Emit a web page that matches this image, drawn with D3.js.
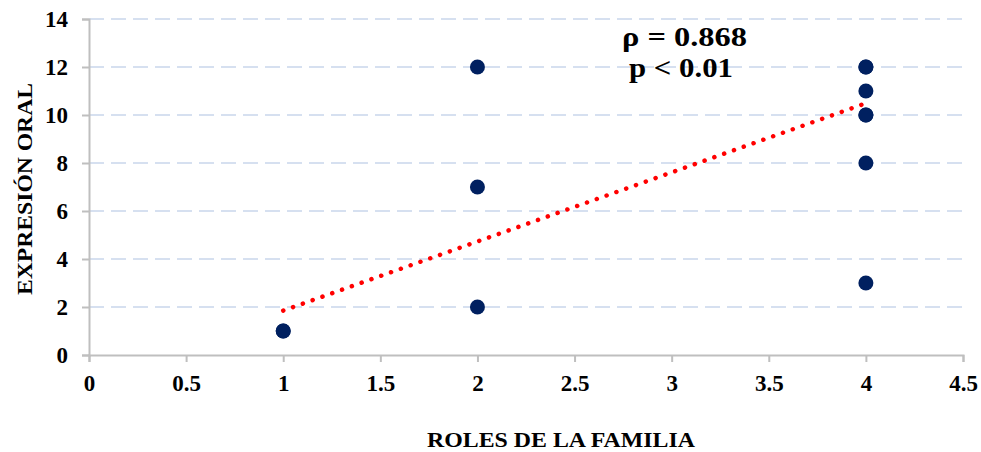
<!DOCTYPE html>
<html>
<head>
<meta charset="utf-8">
<script src="https://cdn.jsdelivr.net/npm/d3@7"></script>
<style>
html,body{margin:0;padding:0;background:#fff;}
svg{display:block;}
text{font-family:"Liberation Serif","Times New Roman",serif;font-weight:bold;fill:#000;}
</style>
</head>
<body>
<svg id="chart" width="981" height="452"></svg>
<script>
// Data
const xValues = [1, 1, 2, 2, 2, 4, 4, 4, 4, 4, 4, 4];
const yValues = [1, 1, 12, 7, 2, 12, 12, 11, 10, 10, 8, 3];
const xTicks = [0, 0.5, 1, 1.5, 2, 2.5, 3, 3.5, 4, 4.5];
const yTicks = [0, 2, 4, 6, 8, 10, 12, 14];
const trendSlope = 2.88;
const trendIntercept = -1.03;
const statLines = ["\u03C1 = 0.868", "p < 0.01"];
const xTitle = "ROLES DE LA FAMILIA";
const yTitle = "EXPRESIÓN ORAL";

const svg = d3.select("#chart");
const m = {left: 89, right: 963, top: 19, bottom: 355};
const x = d3.scaleLinear().domain([0, 4.5]).range([m.left, m.right]);
const y = d3.scaleLinear().domain([0, 14]).range([m.bottom, m.top]);
const axisColor = "#bfbfbf";
const fontFam = '"Liberation Serif","Times New Roman",serif';

// gridlines
svg.append("g").selectAll("line").data(yTicks.filter(d => d > 0)).join("line")
  .attr("x1", m.left).attr("x2", m.right)
  .attr("y1", d => y(d)).attr("y2", d => y(d))
  .attr("stroke", "#d6e0f0").attr("stroke-width", 2)
  .attr("stroke-dasharray", "15 7");

// axes
const xAxis = svg.append("g").attr("transform", `translate(0,${m.bottom})`)
  .call(d3.axisBottom(x).tickValues(xTicks).tickFormat(d3.format("~g")).tickSizeOuter(0).tickSize(7).tickPadding(13));
const yAxis = svg.append("g").attr("transform", `translate(${m.left},0)`)
  .call(d3.axisLeft(y).tickValues(yTicks).tickSizeOuter(0).tickSize(7).tickPadding(14));
[xAxis, yAxis].forEach(a => {
  a.attr("font-family", null).attr("font-size", null);
  a.selectAll("path.domain").attr("stroke", axisColor).attr("stroke-width", 2);
  a.selectAll(".tick line").attr("stroke", axisColor).attr("stroke-width", 2);
  a.selectAll(".tick text").style("font-family", fontFam)
    .style("font-weight", "bold").style("font-size", "23px").attr("fill", "#000");
});

// points
const pts = xValues.map((v, i) => ({x: v, y: yValues[i]}));
svg.append("g").selectAll("circle").data(pts).join("circle")
  .attr("cx", d => x(d.x)).attr("cy", d => y(d.y)).attr("r", 7.5)
  .attr("fill", "#002060");

// trendline
const xr = d3.extent(xValues);
svg.append("line")
  .attr("x1", x(xr[0])).attr("y1", y(trendSlope * xr[0] + trendIntercept))
  .attr("x2", x(xr[1])).attr("y2", y(trendSlope * xr[1] + trendIntercept))
  .attr("stroke", "#ff0000").attr("stroke-width", 4.5)
  .attr("stroke-linecap", "round").attr("stroke-dasharray", "0.1 10.3");

// stats text
svg.append("text").attr("x", 684.5).attr("y", 46).attr("text-anchor", "middle")
  .attr("textLength", 125).attr("lengthAdjust", "spacingAndGlyphs")
  .style("font-size", "28px").text(statLines[0]);
svg.append("text").attr("x", 681).attr("y", 77).attr("text-anchor", "middle")
  .attr("textLength", 104).attr("lengthAdjust", "spacingAndGlyphs")
  .style("font-size", "28px").text(statLines[1]);

// axis titles
svg.append("text").attr("x", 561).attr("y", 447).attr("text-anchor", "middle")
  .attr("textLength", 268).attr("lengthAdjust", "spacingAndGlyphs")
  .style("font-size", "22px").text(xTitle);
svg.append("text").attr("transform", "translate(32,189) rotate(-90)").attr("text-anchor", "middle")
  .attr("textLength", 212).attr("lengthAdjust", "spacingAndGlyphs")
  .style("font-size", "22px").text(yTitle);
</script>
</body>
</html>
